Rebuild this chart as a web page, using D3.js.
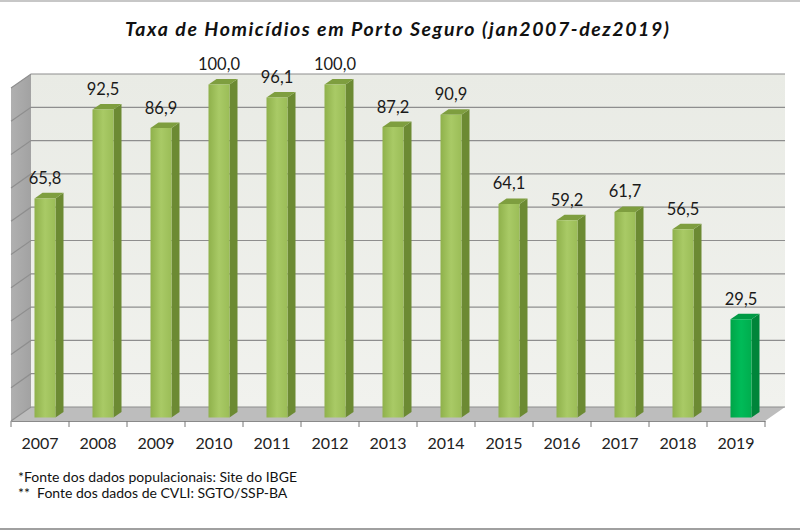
<!DOCTYPE html>
<html>
<head>
<meta charset="utf-8">
<script src="https://cdn.jsdelivr.net/npm/d3@7"></script>
<style>
  body { margin: 0; background: #fff; }
  text { font-family: Lato, "Open Sans", sans-serif; }
</style>
</head>
<body>
<div class="chart"></div>
<script>
var years = ["2007", "2008", "2009", "2010", "2011", "2012", "2013", "2014", "2015", "2016", "2017", "2018", "2019"];
var rates = [65.8, 92.5, 86.9, 100.0, 96.1, 100.0, 87.2, 90.9, 64.1, 59.2, 61.7, 56.5, 29.5];
var highlight = ["2019"];
var title = "Taxa de Homicídios em Porto Seguro (jan2007-dez2019)";
var notes = [
  "*Fonte dos dados populacionais: Site do IBGE",
  "**  Fonte dos dados de CVLI: SGTO/SSP-BA"
];

var fullWidth = 800;
var fullHeight = 532;

// depth of the 3d box, screen offset from front to back
var DX = 20, DY = 14;
function proj(x, y, z) { return [x + z * DX, y - z * DY]; }

var svg = d3
  .select(".chart")
  .append("svg")
  .attr("width", fullWidth)
  .attr("height", fullHeight);

svg.append("rect").attr("width", fullWidth).attr("height", fullHeight).attr("fill", "#fff");
svg.append("line").attr("x1", 0).attr("x2", fullWidth).attr("y1", 1).attr("y2", 1).attr("stroke", "#b4b4b4").attr("stroke-width", 1.5);
svg.append("line").attr("x1", 0).attr("x2", fullWidth).attr("y1", 529).attr("y2", 529).attr("stroke", "#a0a0a0").attr("stroke-width", 2);

var xScale = d3.scaleBand().domain(years).range([11, 765]);
var yScale = d3.scaleLinear().domain([0, 100]).range([421, 88]);

var x0 = xScale.range()[0], x1 = xScale.range()[1];
var yTop = yScale(100), yBot = yScale(0);

var defs = svg.append("defs");
function grad(id, stops, horiz) {
  var g = defs.append("linearGradient").attr("id", id)
    .attr("x1", 0).attr("y1", 0).attr("x2", horiz ? 1 : 0).attr("y2", horiz ? 0 : 1);
  stops.forEach(function (s, i) {
    g.append("stop").attr("offset", (i / (stops.length - 1)) * 100 + "%").attr("stop-color", s);
  });
}
grad("wallG", ["#e9ebe5", "#f1f2ee"], false);
grad("sideWallG", ["#b0b0b0", "#a2a2a2"], true);
grad("barG", ["#8fb14b", "#a9ca66", "#9bbd57"], true);
grad("barHi", ["#00a548", "#00bb58", "#00ad4e"], true);

function poly(pts) { return "M" + pts.map(function (p) { return p.join(","); }).join("L") + "Z"; }

// walls and floor
svg.append("path")
  .attr("d", poly([proj(x0, yTop, 1), proj(x1, yTop, 1), proj(x1, yBot, 1), proj(x0, yBot, 1)]))
  .attr("fill", "url(#wallG)");
svg.append("path")
  .attr("d", poly([proj(x0, yTop, 0), proj(x0, yTop, 1), proj(x0, yBot, 1), proj(x0, yBot, 0)]))
  .attr("fill", "url(#sideWallG)");
svg.append("path")
  .attr("d", poly([proj(x0, yBot, 0), proj(x1, yBot, 0), proj(x1, yBot, 1), proj(x0, yBot, 1)]))
  .attr("fill", "#bdbdbd");

// gridlines on back wall and side wall
var grid = svg.append("g").attr("stroke", "#8e8e8e").attr("stroke-width", 1.2).attr("fill", "none");
yScale.ticks(10).forEach(function (t) {
  var a = proj(x0, yScale(t), 0), b = proj(x0, yScale(t), 1), c = proj(x1, yScale(t), 1);
  grid.append("path").attr("d", "M" + a + "L" + b + "L" + c);
});

// bars
var bw = 21, z0 = 0.25, z1 = 0.65;
var fmt = d3.formatLocale({ decimal: ",", thousands: ".", grouping: [3], currency: ["R$", ""] }).format(".1f");

var bars = svg.selectAll(".bar")
  .data(years.map(function (y, i) { return { year: y, value: rates[i] }; }))
  .enter()
  .append("g")
  .attr("class", "bar");

function left(d) { return xScale(d.year) + xScale.bandwidth() / 2 - bw / 2; }
function isHi(d) { return highlight.indexOf(d.year) >= 0; }

bars.append("path")
  .attr("d", function (d) {
    var l = left(d), r = l + bw, t = yScale(d.value);
    return poly([proj(r, t, z0), proj(r, t, z1), proj(r, yBot, z1), proj(r, yBot, z0)]);
  })
  .attr("fill", function (d) { return isHi(d) ? "#00853a" : "#6c8a33"; });

bars.append("path")
  .attr("d", function (d) {
    var l = left(d), r = l + bw, t = yScale(d.value);
    return poly([proj(l, t, z0), proj(r, t, z0), proj(r, t, z1), proj(l, t, z1)]);
  })
  .attr("fill", function (d) { return isHi(d) ? "#009a45" : "#7e9e3f"; });

bars.append("path")
  .attr("d", function (d) {
    var l = left(d), r = l + bw, t = yScale(d.value);
    return poly([proj(l, t, z0), proj(r, t, z0), proj(r, yBot, z0), proj(l, yBot, z0)]);
  })
  .attr("fill", function (d) { return isHi(d) ? "url(#barHi)" : "url(#barG)"; });

bars.append("text")
  .attr("x", function (d) { return proj(left(d) + bw / 2, 0, z0)[0]; })
  .attr("y", function (d) { return proj(0, yScale(d.value), z1)[1] - 9; })
  .attr("text-anchor", "middle")
  .attr("font-size", "16.5px")
  .attr("fill", "#1a1a1a")
  .text(function (d) { return fmt(d.value); });

// category axis along the front edge of the floor
var axis = svg.append("g")
  .attr("transform", "translate(0," + yBot + ")")
  .call(d3.axisBottom(xScale).tickSize(0).tickPadding(17));
axis.select(".domain").attr("stroke", "#8a8a8a").attr("stroke-width", 1.2);
axis.selectAll(".tick text")
  .attr("font-family", "Lato, sans-serif")
  .attr("font-size", "16px")
  .attr("fill", "#222");
axis.selectAll(".edge")
  .data(years.map(function (y) { return xScale(y); }).concat([x1]))
  .enter()
  .append("line")
  .attr("class", "edge")
  .attr("x1", function (d) { return d; })
  .attr("x2", function (d) { return d; })
  .attr("y1", 0)
  .attr("y2", 6)
  .attr("stroke", "#777");

// title
svg.append("text")
  .attr("x", 397)
  .attr("y", 36)
  .attr("text-anchor", "middle")
  .attr("font-size", "19.5px")
  .attr("font-weight", "bold")
  .attr("font-style", "italic")
  .attr("textLength", 544)
  .attr("lengthAdjust", "spacing")
  .attr("fill", "#111")
  .text(title);

// footnotes
svg.selectAll(".note")
  .data(notes)
  .enter()
  .append("text")
  .attr("class", "note")
  .attr("x", 18)
  .attr("y", function (d, i) { return 482 + i * 16; })
  .attr("font-family", "'Open Sans', sans-serif")
  .attr("font-size", "14px")
  .attr("fill", "#111")
  .attr("xml:space", "preserve")
  .text(function (d) { return d; });
</script>
</body>
</html>
